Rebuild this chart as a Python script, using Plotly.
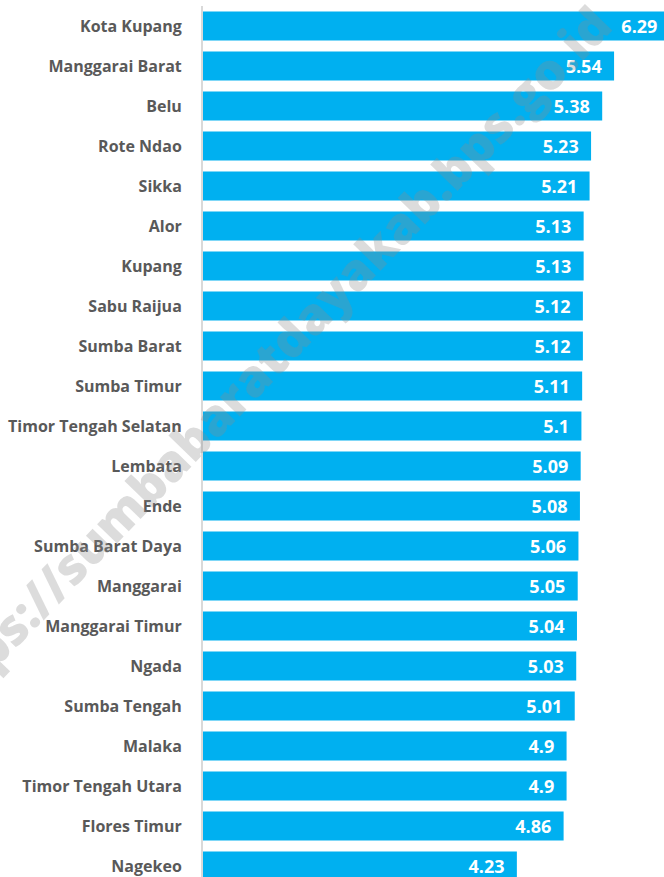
import plotly.graph_objects as go

categories = ["Kota Kupang", "Manggarai Barat", "Belu", "Rote Ndao", "Sikka", "Alor",
              "Kupang", "Sabu Raijua", "Sumba Barat", "Sumba Timur", "Timor Tengah Selatan",
              "Lembata", "Ende", "Sumba Barat Daya", "Manggarai", "Manggarai Timur", "Ngada",
              "Sumba Tengah", "Malaka", "Timor Tengah Utara", "Flores Timur", "Nagekeo"]
values = [6.29, 5.54, 5.38, 5.23, 5.21, 5.13, 5.13, 5.12, 5.12, 5.11, 5.1,
          5.09, 5.08, 5.06, 5.05, 5.04, 5.03, 5.01, 4.9, 4.9, 4.86, 4.23]
labels = [f"{v:g}\u00a0\u00a0" for v in values]
watermark = "https://sumbabaratdayakab.bps.go.id"

W, H = 664, 877
L, R, T, B = 203, 0, 6, 0

fig = go.Figure(go.Bar(
    x=values, y=categories, orientation="h",
    marker=dict(color="#00B0F0", line=dict(width=0)),
    text=labels, textposition="inside", insidetextanchor="end",
    textfont=dict(family="Open Sans", size=18, color="white", weight="bold"),
    constraintext="none", hoverinfo="skip",
))

plot_h = H - T - B
fig.update_layout(
    width=W, height=H,
    margin=dict(l=L, r=R, t=T, b=B, pad=0),
    paper_bgcolor="white", plot_bgcolor="white",
    bargap=0.275, showlegend=False,
    xaxis=dict(range=[0, (W - L - R) / 74.2], visible=False, fixedrange=True),
    yaxis=dict(
        type="category", categoryorder="array", categoryarray=categories,
        range=[plot_h / 40 - 0.5, -0.5],
        showline=True, linecolor="#D9D9D9", linewidth=2,
        showgrid=False, zeroline=False, ticks="",
        ticklabelstandoff=16,
        tickfont=dict(family="Open Sans", size=16, color="#595959", weight="bold"),
    ),
    annotations=[dict(
        text=watermark, xref="paper", yref="paper",
        x=(262 - L) / (W - L - R), y=1 - (366 - T) / plot_h,
        xanchor="center", yanchor="middle", showarrow=False, textangle=-46,
        font=dict(family="Open Sans", size=50, color="rgba(140,140,140,0.3)", weight=800),
    )],
)

fig.write_html(
    "out.html",
    config={"displayModeBar": False, "staticPlot": True},
    post_script="document.body.style.margin='0';document.body.style.overflow='hidden';"
                "document.documentElement.style.overflow='hidden';",
)
